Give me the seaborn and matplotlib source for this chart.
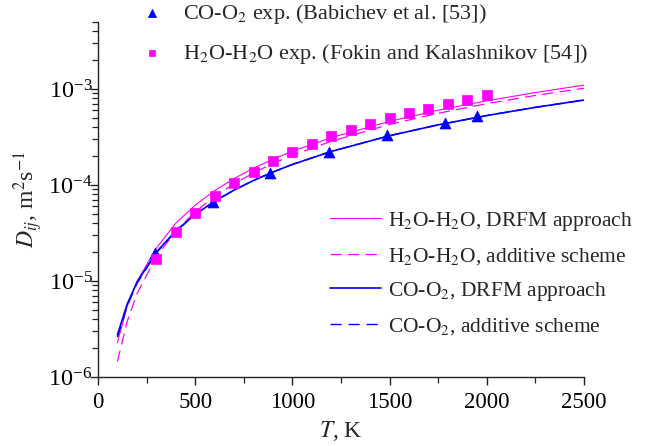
import numpy as np
import pandas as pd
import matplotlib
matplotlib.use("Agg")
import matplotlib.pyplot as plt
from matplotlib.ticker import MultipleLocator, LogLocator, NullFormatter
import seaborn as sns

# ---------------- data ----------------
T_line = [100, 150, 200, 300, 400, 500, 600, 700, 800, 900, 1000, 1200,
          1500, 1750, 2000, 2250, 2500]

h2o_drfm = [2.29e-6, 5.43e-6, 9.9e-6, 2.2e-5, 4.01e-5, 6.18e-5, 8.75e-5,
            1.17e-4, 1.50e-4, 1.86e-4, 2.25e-4, 3.12e-4, 4.61e-4, 6.02e-4,
            7.55e-4, 9.2e-4, 1.10e-3]
h2o_add = [1.45e-6, 3.78e-6, 7.33e-6, 1.80e-5, 3.32e-5, 5.27e-5, 7.62e-5,
           1.03e-4, 1.34e-4, 1.68e-4, 2.04e-4, 2.86e-4, 4.28e-4, 5.60e-4,
           7.05e-4, 8.59e-4, 1.02e-3]
coo2_drfm = [2.75e-6, 5.74e-6, 9.66e-6, 2.00e-5, 3.33e-5, 4.93e-5, 6.79e-5,
             8.87e-5, 1.117e-4, 1.368e-4, 1.64e-4, 2.24e-4, 3.27e-4, 4.24e-4,
             5.30e-4, 6.45e-4, 7.69e-4]
coo2_add = [2.6e-6, 5.5e-6, 9.4e-6, 1.96e-5, 3.30e-5, 4.91e-5, 6.77e-5,
            8.85e-5, 1.115e-4, 1.366e-4, 1.64e-4, 2.24e-4, 3.27e-4, 4.24e-4,
            5.30e-4, 6.45e-4, 7.69e-4]

T_coo2_exp = [293, 592, 885, 1188, 1487, 1785, 1950]
D_coo2_exp = [1.95e-5, 6.6e-5, 1.35e-4, 2.22e-4, 3.33e-4, 4.45e-4, 5.25e-4]

T_h2o_exp = [300, 400, 500, 600, 700, 800, 900, 1000, 1100, 1200, 1300,
             1400, 1500, 1600, 1700, 1800, 1900, 2000]
D_h2o_exp = [1.69e-5, 3.22e-5, 5.07e-5, 7.6e-5, 1.06e-4, 1.38e-4, 1.80e-4,
             2.22e-4, 2.69e-4, 3.26e-4, 3.76e-4, 4.33e-4, 5.0e-4, 5.64e-4,
             6.2e-4, 7.0e-4, 7.7e-4, 8.7e-4]

x_ticks = [0, 500, 1000, 1500, 2000, 2500]

line_labels = [r"H$_2$O-H$_2$O, DRFM approach",
               r"H$_2$O-H$_2$O, additive scheme",
               r"CO-O$_2$, DRFM approach",
               r"CO-O$_2$, additive scheme"]
exp_labels = [r"CO-O$_2$ exp. (Babichev et al. [53])",
              r"H$_2$O-H$_2$O exp. (Fokin and Kalashnikov [54])"]

# ---------------- style ----------------
sns.set_theme(style="ticks")
plt.rcParams["font.family"] = ["Liberation Serif", "DejaVu Serif"]
plt.rcParams["mathtext.fontset"] = "stix"
plt.rcParams["mathtext.rm"] = "Liberation Serif"
plt.rcParams["axes.linewidth"] = 1.0

MAG = "#FF00FF"
BLUE = "#0000FF"

fig = plt.figure(figsize=(6.48, 4.46), dpi=100)
ax = fig.add_axes([98 / 648, 1 - 377 / 446, (584 - 98) / 648, (377 - 22) / 446])

df_lines = pd.DataFrame({"T": T_line, "h2o_drfm": h2o_drfm, "h2o_add": h2o_add,
                         "coo2_drfm": coo2_drfm, "coo2_add": coo2_add})

sns.lineplot(data=df_lines, x="T", y="h2o_drfm", ax=ax, color=MAG, lw=0.8,
             label=line_labels[0])
sns.lineplot(data=df_lines, x="T", y="h2o_add", ax=ax, color=MAG, lw=0.9,
             label=line_labels[1])
sns.lineplot(data=df_lines, x="T", y="coo2_drfm", ax=ax, color=BLUE, lw=1.2,
             label=line_labels[2])
sns.lineplot(data=df_lines, x="T", y="coo2_add", ax=ax, color=BLUE, lw=1.0,
             label=line_labels[3])
lines = ax.get_lines()
lines[1].set_dashes([9, 5])
lines[3].set_dashes([8, 5])

sns.scatterplot(x=T_coo2_exp, y=D_coo2_exp, ax=ax, marker="^", s=62,
                color=BLUE, edgecolor=BLUE, linewidth=0.5, zorder=5,
                label=exp_labels[0])
sns.scatterplot(x=T_h2o_exp, y=D_h2o_exp, ax=ax, marker="s", s=42,
                color=MAG, edgecolor=MAG, linewidth=0.5, zorder=5,
                label=exp_labels[1])

ax.set_yscale("log")
ax.set_xlim(0, 2500)
ax.set_ylim(1e-6, 5e-3)
ax.set_xticks(x_ticks)
ax.set_xticklabels([str(v) for v in x_ticks])
ax.xaxis.set_minor_locator(MultipleLocator(250))
ax.yaxis.set_major_locator(LogLocator(base=10, numticks=10))
ax.yaxis.set_minor_locator(LogLocator(base=10, subs=np.arange(2, 10), numticks=20))
ax.yaxis.set_minor_formatter(NullFormatter())
ax.tick_params(axis="both", which="major", direction="out", length=6, width=1.0,
               colors="#222222", labelcolor="black")
ax.tick_params(axis="x", which="major", labelsize=16.5, pad=5)
ax.tick_params(axis="y", which="major", labelsize=17.5, pad=-2)
ax.tick_params(axis="both", which="minor", direction="out", length=4, width=0.9,
               colors="#222222")

sns.despine(ax=ax, top=True, right=True)
ax.spines["left"].set_color("#222222")
ax.spines["bottom"].set_color("#222222")

ax.set_xlabel(r"$T$, K", fontsize=17, labelpad=4)
ax.set_ylabel(r"$D_{ij}$, m$^{2}$s$^{-1}$", fontsize=17, labelpad=2)

handles, labels = ax.get_legend_handles_labels()
hmap = dict(zip(labels, handles))
if ax.get_legend():
    ax.get_legend().remove()

leg1 = ax.legend([hmap[l] for l in exp_labels], exp_labels, loc="upper left",
                 bbox_to_anchor=(141 / 648, 1 - 2 / 446),
                 bbox_transform=fig.transFigure, frameon=False, fontsize=16,
                 handlelength=1.0, handletextpad=0.9, labelspacing=0.72,
                 borderpad=0, borderaxespad=0, markerscale=0.75)
ax.add_artist(leg1)
leg2 = ax.legend([hmap[l] for l in line_labels], line_labels, loc="upper left",
                 bbox_to_anchor=(330 / 648, 1 - 210 / 446),
                 bbox_transform=fig.transFigure, frameon=False, fontsize=15.5,
                 handlelength=2.35, handletextpad=0.35, labelspacing=0.6,
                 borderpad=0, borderaxespad=0)

fig.savefig("out.png", dpi=100)
